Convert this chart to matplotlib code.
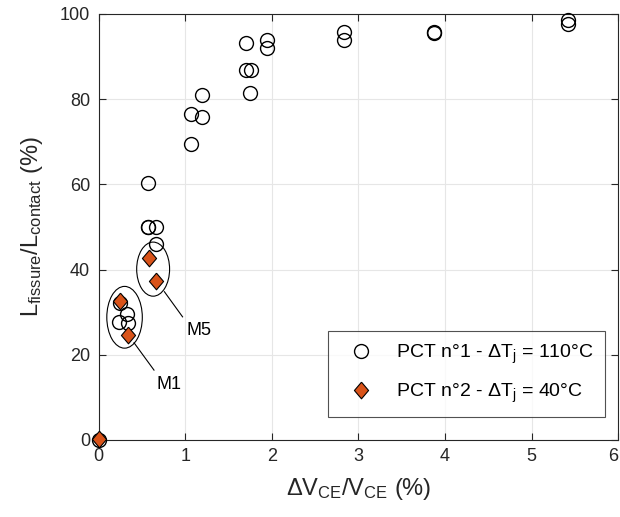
import numpy as np
import matplotlib
matplotlib.use('Agg')
import matplotlib.pyplot as plt
from matplotlib.patches import Ellipse

# PCT n°1 - dTj = 110°C (open circles)
x_pct1 = [0.0, 0.24, 0.25, 0.33, 0.34, 0.57, 0.57, 0.66, 0.66, 0.57,
          1.07, 1.07, 1.20, 1.20, 1.70, 1.70, 1.76, 1.75, 1.95, 1.95,
          2.83, 2.83, 3.87, 3.87, 5.42, 5.42]
y_pct1 = [0.0, 27.8, 32.1, 29.6, 27.5, 50.1, 60.4, 50.1, 46.0, 50.0,
          69.4, 76.4, 75.8, 80.9, 93.3, 86.9, 86.9, 81.4, 94.0, 92.0,
          95.8, 93.9, 95.7, 95.5, 98.6, 97.6]

# PCT n°2 - dTj = 40°C (diamonds)
x_pct2 = [0.0, 0.25, 0.34, 0.58, 0.66]
y_pct2 = [0.2, 32.7, 24.6, 42.6, 37.3]

# module groups (label, centre, width, height, line start, line end, text pos)
groups = {
    'M1': ((0.30, 28.8), 0.41, 14.5, (0.41, 22.8), (0.64, 16.4), (0.67, 13.0)),
    'M5': ((0.63, 40.1), 0.38, 12.7, (0.76, 34.8), (0.97, 28.9), (1.01, 25.8)),
}

orange = '#D95319'
txt = '#262626'
plt.rcParams['font.family'] = 'Liberation Sans'
plt.rcParams['mathtext.fontset'] = 'custom'
plt.rcParams['mathtext.rm'] = 'Liberation Sans'
plt.rcParams['mathtext.it'] = 'Liberation Sans:italic'

fig = plt.figure(figsize=(6.2, 5.17), dpi=100)
ax = fig.add_axes([0.159, 0.149, 0.838, 0.824])

diamond = [(0, 1), (0.85, 0), (0, -1), (-0.85, 0), (0, 1)]

ax.plot(x_pct1, y_pct1, 'o', mfc='none', mec='black', mew=1.0, ms=10,
        clip_on=False, zorder=3, label='PCT n°1 - $\\Delta$T$_\\mathregular{j}$ = 110°C')
ax.plot(x_pct2, y_pct2, linestyle='none', marker=diamond, mfc=orange, mec='black',
        mew=0.8, ms=12, clip_on=False, zorder=4,
        label='PCT n°2 - $\\Delta$T$_\\mathregular{j}$ = 40°C')

for name, (c, w, h, p0, p1, tp) in groups.items():
    ax.add_patch(Ellipse(c, w, h, fill=False, ec='black', lw=0.8, zorder=5))
    ax.plot([p0[0], p1[0]], [p0[1], p1[1]], color='black', lw=0.8, zorder=5)
    ax.text(tp[0], tp[1], name, fontsize=13, va='center', ha='left')

ax.set_xlim(0, 6)
ax.set_ylim(0, 100)
ax.set_xticks(range(0, 7))
ax.set_yticks(range(0, 101, 20))
ax.grid(True, color='#e6e6e6', lw=0.8)
ax.set_axisbelow(True)
ax.tick_params(direction='in', top=True, right=True, labelsize=13, colors=txt,
               length=5, pad=6)
ax.get_xticklabels()[-1].set_horizontalalignment('right')
for s in ax.spines.values():
    s.set_color(txt)
    s.set_linewidth(0.8)

ax.set_xlabel('$\\Delta$V$_\\mathregular{CE}$/V$_\\mathregular{CE}$ (%)', fontsize=17,
              labelpad=8, color=txt)
ax.set_ylabel('L$_\\mathregular{fissure}$/L$_\\mathregular{contact}$ (%)', fontsize=17,
              labelpad=11, color=txt)

leg = ax.legend(loc='lower right', bbox_to_anchor=(0.975, 0.054), fontsize=14,
                frameon=True, fancybox=False, edgecolor=txt, borderpad=0.6,
                labelspacing=0.85, handletextpad=0.7, handlelength=2.2, borderaxespad=0)
leg.get_frame().set_linewidth(0.8)

fig.savefig('out.png', dpi=100)
